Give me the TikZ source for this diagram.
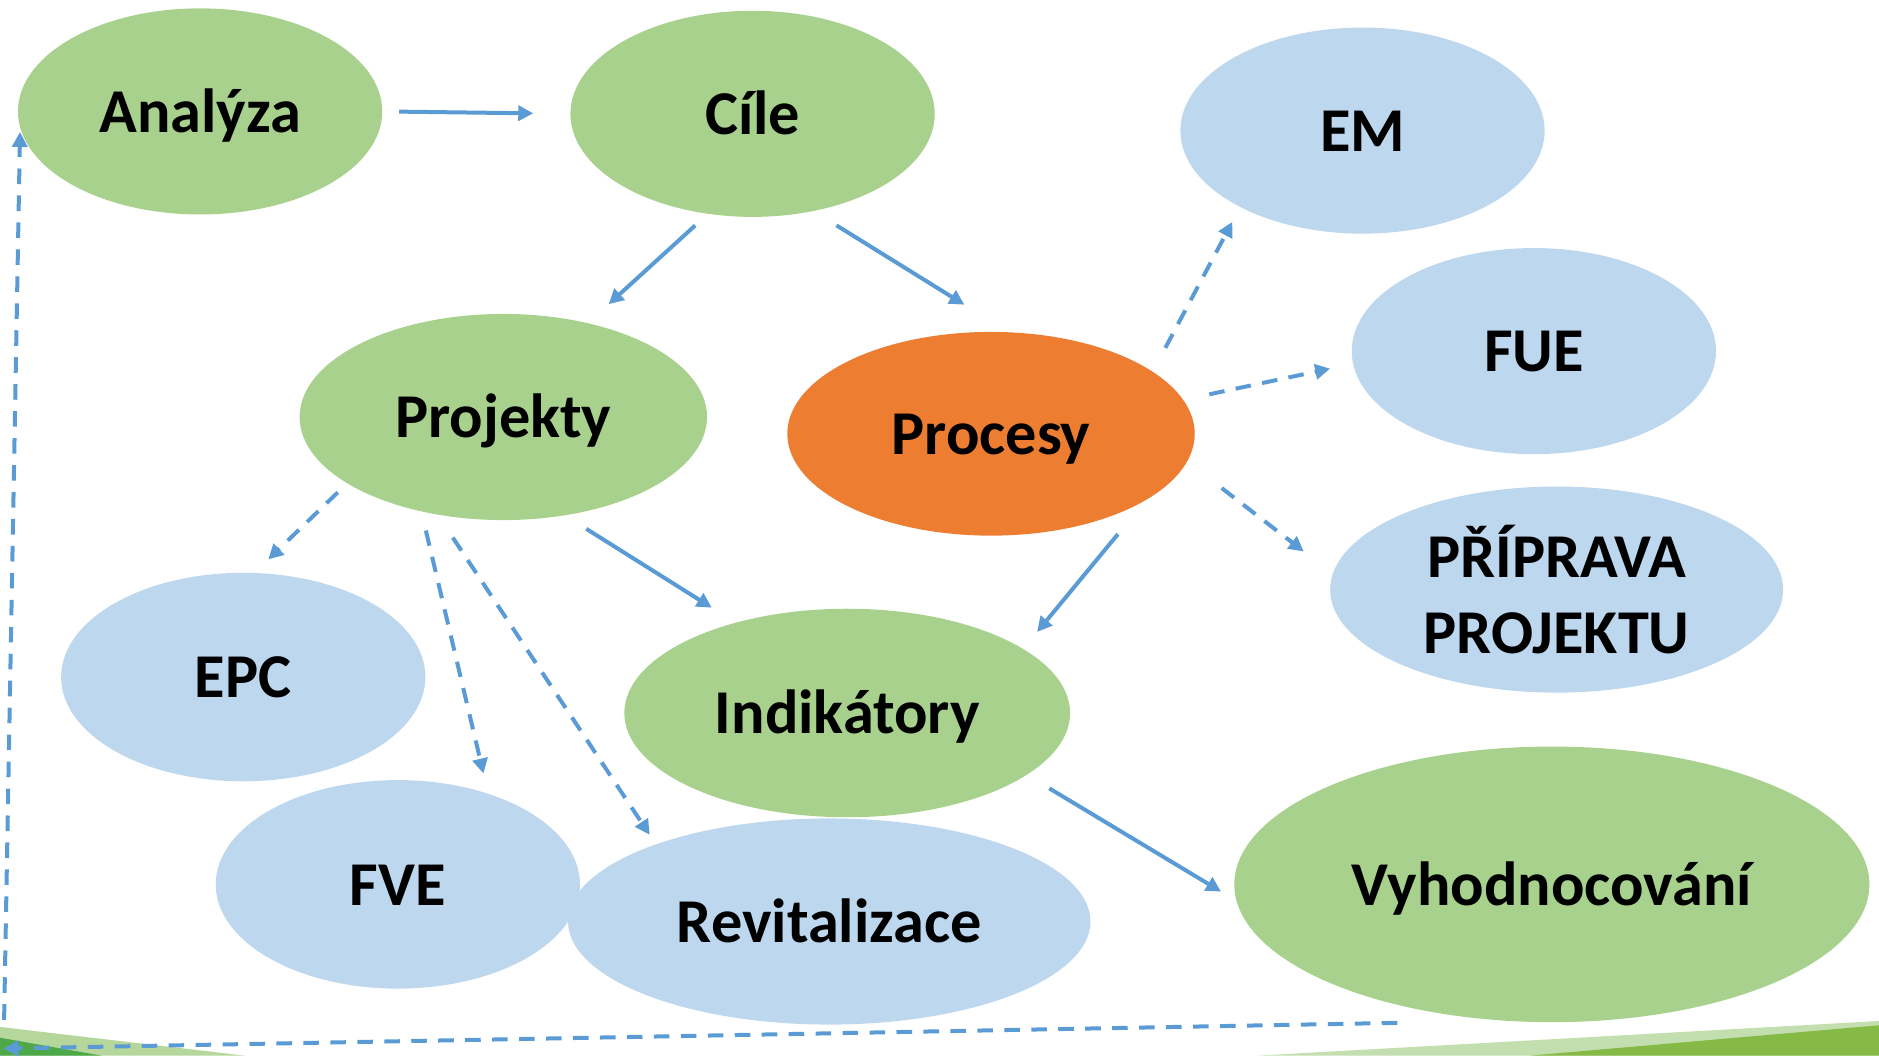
\documentclass[tikz,border=0pt]{standalone}
\usepackage{fontspec}
\setmainfont{Carlito}
\usepackage{xcolor}
\usetikzlibrary{calc, shapes.geometric, arrows.meta}

\definecolor{vert}{HTML}{A9D18E}
\definecolor{bleu}{HTML}{BDD7EE}
\definecolor{orangeP}{HTML}{ED7D31}
\definecolor{fleche}{HTML}{5B9BD5}
\definecolor{vertC}{HTML}{B5D79B}
\definecolor{vertF}{HTML}{4DA84A}
\definecolor{vertD}{HTML}{84BA45}

\tikzstyle{every node}=[font=\fontsize{14.8}{18}\selectfont\bfseries]
\tikzset{bulle/.style={ellipse, inner sep=0pt, outer sep=0pt},
	mot/.style={text height=0.644em+1.2mm, text depth=0pt},
	fl/.style={draw=fleche, line width=0.95pt, -{Triangle[length=1.25mm, width=1.25mm]}},
	tir/.style={fl, dash pattern=on 1.3mm off 0.95mm}}

\begin{document}
\begin{tikzpicture}[x=0.1mm, y=-0.1mm]
	\useasboundingbox (0,0) rectangle (1568,881);
	
%%%%     BANDES     %%%%

	% bas gauche
	\fill[vertC] (0,857) -- (205,881) -- (0,881) -- cycle;
	\fill[vertF] (0,866) -- (85,881) -- (0,881) -- cycle;
	
	% bas droite
	\fill[vertC!80] (1048,881) -- (1568,852) -- (1568,881) -- cycle;
	\fill[vertD] (1276,881) -- (1568,855.6) -- (1568,881) -- cycle;
	
%%%%     BULLES     %%%%

	\node[bulle, mot, fill=vert, minimum width=30.4mm, minimum height=17.2mm] (analyza) at (167,93) {Analýza};
	\node[bulle, mot, fill=vert, minimum width=30.4mm, minimum height=17.2mm] (cile) at (628,95) {Cíle};
	\node[bulle, mot, fill=bleu, minimum width=30.4mm, minimum height=17.2mm] (em) at (1137,109) {EM};
	\node[bulle, mot, fill=bleu, minimum width=30.4mm, minimum height=17.2mm] (fue) at (1280,293) {FUE};
	\node[bulle, mot, fill=vert, minimum width=34mm, minimum height=17.2mm] (projekty) at (420,348) {Projekty};
	\node[bulle, mot, fill=orangeP, minimum width=34mm, minimum height=17mm] (procesy) at (827,362) {Procesy};
	\node[bulle, fill=bleu, align=center, minimum width=37.8mm, minimum height=17.2mm] (priprava) at (1299,492) {PŘÍPRAVA\\PROJEKTU};
	\node[bulle, mot, fill=bleu, minimum width=30.4mm, minimum height=17.4mm] (epc) at (203,565) {EPC};
	\node[bulle, mot, fill=vert, minimum width=37.2mm, minimum height=17.4mm] (indik) at (707,595) {Indikátory};
	\node[bulle, mot, fill=bleu, minimum width=43.6mm, minimum height=17.2mm] (revital) at (692,769) {Revitalizace};
	\node[bulle, mot, fill=bleu, minimum width=30.4mm, minimum height=17.4mm] (fve) at (332,738) {FVE};
	\node[bulle, mot, fill=vert, minimum width=53mm, minimum height=23mm] (vyhod) at (1295,738) {Vyhodnocování};
	
%%%%     FLECHES     %%%%

	% pleines
	\draw[fl, shorten <=1.4mm, shorten >=3.1mm] (analyza.east) -- (cile.west);
	\draw[fl, shorten <=1.45mm, shorten >=2.36mm] (cile.246) -- (projekty.48);
	\draw[fl, shorten <=2.28mm, shorten >=4.37mm] (cile.302.6) -- (procesy.80.6);
	\draw[fl, shorten <=2.13mm, shorten >=2.36mm] (projekty.302) -- (indik.141);
	\draw[fl, shorten <=3.73mm, shorten >=1.84mm] (procesy.337.9) -- (indik.20.3);
	\draw[fl, shorten <=2.2mm, shorten >=1.51mm] (indik.341.8) -- (vyhod.183.9);
	
	% tirets
	\draw[tir, shorten <=2.26mm, shorten >=1.41mm] (procesy.21.3) -- (em.212.9);
	\draw[tir, shorten <=2.23mm, shorten >=1.96mm] (procesy.10.1) -- (fue.184.2);
	\draw[tir, shorten <=3.65mm, shorten >=3.06mm] (procesy.352.7) -- (priprava.176.4);
	\draw[tir, shorten <=1.1mm, shorten >=1.63mm] (projekty.203.1) -- (epc.84.5);
	\draw[tir, shorten <=1.65mm, shorten >=1.75mm] (projekty.229.8) -- (fve.45.4);
	\draw[tir, shorten <=2.31mm, shorten >=0.96mm] (projekty.236.7) -- (revital.156.3);
	
	% retour
	\coordinate (coin) at (3,875);
	\draw[tir, shorten <=9.2mm] (vyhod.252.8) -- (coin);
	\draw[tir, shorten <=2.4mm, shorten >=0.4mm] (coin) -- (analyza.185);
	
\end{tikzpicture}
\end{document}
